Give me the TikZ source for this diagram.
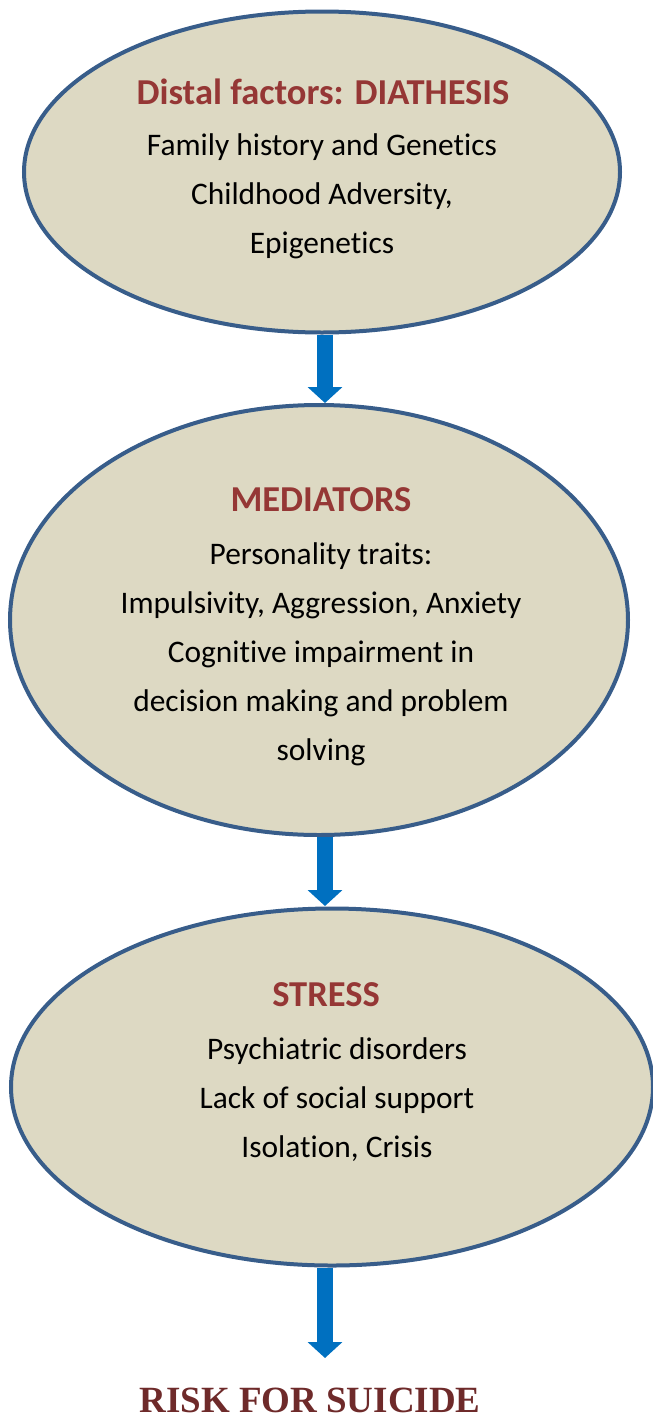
\documentclass[tikz,border=0pt]{standalone}
\usepackage{fontspec}
\setmainfont[Ligatures=NoCommon]{Carlito}
\newfontfamily\riskfont{Liberation Serif}
\usetikzlibrary{positioning,arrows.meta,calc,shapes.geometric}
\definecolor{DSfill}{HTML}{DDD9C3}
\definecolor{DSline}{HTML}{385D8A}
\definecolor{DShead}{HTML}{953735}
\definecolor{DSrisk}{HTML}{6E2A2A}
\definecolor{DSarrow}{HTML}{0070C0}
\tikzset{
  stage/.style={ellipse, draw=DSline, fill=DSfill, line width=4pt, inner sep=0pt},
  stagehead/.style={font=\fontsize{36.5}{40}\selectfont\bfseries, text=DShead},
  stagetext/.style={align=center, font=\fontsize{31.4}{49}\selectfont, text=black},
  flowarr/.style={-{Triangle[width=34pt,length=16pt]}, line width=16pt, draw=DSarrow,
    preaction={draw=white, line width=19pt, -{Triangle[width=38pt,length=18pt]}}}
}
\begin{document}
\begin{tikzpicture}[x=1pt,y=-1pt]
\useasboundingbox (0,0) rectangle (653,1419);
% stages
\node[stage, minimum width=596pt, minimum height=321pt] (diathesis) at (322,172) {};
\node[stage, minimum width=618pt, minimum height=430pt] (mediators) at (319,620) {};
\node[stage, minimum width=642pt, minimum height=357pt] (stress) at (332,1087) {};
% texts
\node[stagehead] (diathesishead) at (323,92) {Distal factors: DIATHESIS};
\node[stagetext] (diathesistext) at (322,196) {Family history and Genetics\\Childhood Adversity,\\Epigenetics};
\node[stagehead] (mediatorshead) at (321,500) {MEDIATORS};
\node[stagetext] (mediatorstext) at (321,654) {Personality traits:\\Impulsivity, Aggression, Anxiety\\Cognitive impairment in\\decision making and problem\\solving};
\node[stagehead] (stresshead) at (326,995) {STRESS};
\node[stagetext] (stresstext) at (337,1100) {Psychiatric disorders\\Lack of social support\\Isolation, Crisis};
\node[font=\riskfont\fontsize{37}{40}\selectfont\bfseries, text=DSrisk] (risk) at (310,1400) {RISK FOR SUICIDE};
% arrows
\coordinate (riskin) at (325,1358);
\draw[flowarr] (diathesis.south -| 325,0) -- (325,403);
\draw[flowarr] (mediators.south -| 325,0) -- (325,906);
\draw[flowarr] (stress.south -| 325,0) -- (riskin);
\end{tikzpicture}
\end{document}
